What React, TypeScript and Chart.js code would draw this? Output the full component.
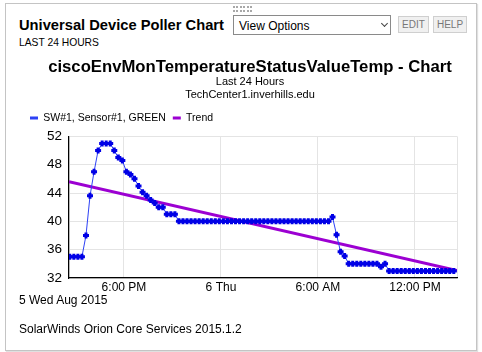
import React, { useEffect, useRef } from "react";
import { Chart, registerables } from "chart.js";

Chart.register(...registerables);

const FONT = "'Liberation Sans', Arial, Helvetica, sans-serif";

const chartTitle = "ciscoEnvMonTemperatureStatusValueTemp - Chart";
const subtitleLines = ["Last 24 Hours", "TechCenter1.inverhills.edu"];
const seriesLabel = "SW#1, Sensor#1, GREEN";
const trendLabel = "Trend";

// polling every 15 minutes, first sample 2:39 PM Aug 5 (hours since Aug 5 00:00)
const startHour = 14.65;
const stepHours = 0.25;

const sensorValues = [
  35, 35, 35, 35, 38, 43.6, 47, 50, 51, 51, 51, 50, 49, 48.6, 47, 46.6,
  46, 45, 44.1, 43.6, 43, 42.6, 42, 42, 41, 41, 41, 40, 40, 40, 40, 40,
  40, 40, 40, 40, 40, 40, 40, 40, 40, 40, 40, 40, 40, 40, 40, 40,
  40, 40, 40, 40, 40, 40, 40, 40, 40, 40, 40, 40, 40, 40, 40, 40,
  40, 40.6, 38.1, 35.7, 35.1, 34, 34, 34, 34, 34, 34, 34, 34, 33.6, 34, 33,
  33, 33, 33, 33, 33, 33, 33, 33, 33, 33, 33, 33, 33, 33, 33, 33,
];

const trendHours = [14.6, 38.6];
const trendValues = [45.6, 33.05];

const axisMinHour = 14.6;
const axisMaxHour = 38.6;
const xTickHours = [18, 24, 30, 36];
const xTickLabels = ["6:00 PM", "6 Thu", "6:00 AM", "12:00 PM"];
const yTicks = [32, 36, 40, 44, 48, 52];

function ChartCanvas() {
  const ref = useRef<HTMLCanvasElement | null>(null);
  useEffect(() => {
    if (!ref.current) return;
    const chart = new Chart(ref.current, {
      type: "line",
      data: {
        datasets: [
          {
            label: seriesLabel,
            xAxisID: "x",
            yAxisID: "y",
            data: sensorValues.map((v, i) => ({ x: startHour + i * stepHours, y: v })),
            borderColor: "rgb(45,65,245)",
            backgroundColor: "rgb(0,0,230)",
            borderWidth: 1,
            pointStyle: "cross",
            pointRadius: 3,
            pointBorderWidth: 3,
            pointBorderColor: "rgb(0,0,230)",
            pointBackgroundColor: "rgb(0,0,230)",
            tension: 0,
          },
          {
            label: trendLabel,
            xAxisID: "x",
            yAxisID: "y",
            data: trendHours.map((h, i) => ({ x: h, y: trendValues[i] })),
            borderColor: "#9c00d2",
            backgroundColor: "#9c00d2",
            borderWidth: 3,
            pointRadius: 0,
            tension: 0,
          },
        ],
      },
      options: {
        animation: false,
        responsive: false,
        maintainAspectRatio: false,
        layout: { padding: { left: 3, right: 3, top: 0, bottom: 6.6 } },
        plugins: {
          title: {
            display: true,
            text: chartTitle,
            color: "#000",
            font: { family: FONT, size: 16.7, weight: "bold", lineHeight: 0.8 },
            padding: { top: 5.5, bottom: 2 },
          },
          subtitle: {
            display: true,
            text: subtitleLines,
            color: "#000",
            font: { family: FONT, size: 11, lineHeight: 13 / 11 },
            padding: { top: 0, bottom: 4 },
          },
          legend: {
            display: true,
            align: "start",
            labels: {
              boxWidth: 8,
              boxHeight: 3,
              padding: 7,
              color: "#000",
              font: { family: FONT, size: 10.5 },
              generateLabels: (c: any) =>
                c.data.datasets.map((ds: any, i: number) => ({
                  text: ds.label,
                  fillStyle: ds.borderColor,
                  strokeStyle: ds.borderColor,
                  lineWidth: 0,
                  hidden: false,
                  datasetIndex: i,
                  fontColor: "#000",
                })),
            },
          },
          tooltip: { enabled: false },
        },
        scales: {
          x: {
            type: "linear",
            min: axisMinHour,
            max: axisMaxHour,
            afterBuildTicks: (s: any) => {
              s.ticks = [axisMinHour, ...xTickHours, axisMaxHour].map((v) => ({ value: v }));
            },
            ticks: {
              autoSkip: false,
              maxRotation: 0,
              minRotation: 0,
              padding: 2,
              color: "#000",
              font: { family: FONT, size: 12 },
              callback: (v: any) => {
                const k = xTickHours.indexOf(Number(v));
                return k >= 0 ? xTickLabels[k] : "";
              },
            },
            grid: { color: "#e4e4e4", drawTicks: false },
            border: { color: "#000", width: 1.2 },
          },
          y: {
            type: "linear",
            min: 32,
            max: 52,
            afterBuildTicks: (s: any) => {
              s.ticks = yTicks.map((v) => ({ value: v }));
            },
            afterFit: (s: any) => {
              s.width = 46;
            },
            ticks: {
              padding: 7,
              color: "#000",
              font: { family: FONT, size: 13.5 },
            },
            grid: { color: "#e4e4e4", drawTicks: false },
            border: { color: "#000", width: 1.2 },
          },
          spacerTop: {
            type: "linear",
            axis: "x",
            position: "top",
            display: true,
            min: 0,
            max: 1,
            afterFit: (s: any) => {
              s.height = 3;
            },
            grid: { display: false, drawTicks: false },
            ticks: { display: false },
            border: { display: false },
          },
          spacerRight: {
            type: "linear",
            axis: "y",
            position: "right",
            display: true,
            min: 0,
            max: 1,
            afterFit: (s: any) => {
              s.width = 20;
            },
            grid: { display: false, drawTicks: false },
            ticks: { display: false },
            border: { display: false },
          },
        },
      } as any,
    });
    return () => chart.destroy();
  }, []);
  return (
    <canvas
      ref={ref}
      width={460}
      height={248}
      style={{ position: "absolute", left: 20, top: 55, width: 460, height: 248 }}
    />
  );
}

const abs = (o: any) => ({ position: "absolute" as const, ...o });

export default function App() {
  const dots: any[] = [];
  for (let r = 0; r < 2; r++) {
    for (let c = 0; c < 6; c++) {
      dots.push(
        <div
          key={`${r}-${c}`}
          style={abs({ left: 233 + c * 3.4, top: 6 + r * 3.8, width: 2, height: 2, background: "#a8a8a8" })}
        />
      );
    }
  }
  return (
    <div style={abs({ left: 0, top: 0, width: 482, height: 352, background: "#fff", fontFamily: FONT, color: "#000", overflow: "hidden" })}>
      <div
        style={abs({
          left: 5,
          top: 3,
          width: 470,
          height: 346,
          border: "1px solid #c4c4c4",
          boxShadow: "1px 1px 1px #e0e0e0",
        })}
      />
      {dots}
      <div style={abs({ left: 19, top: 17.6, fontSize: 14.7, lineHeight: "14.7px", fontWeight: "bold", whiteSpace: "nowrap" })}>
        Universal Device Poller Chart
      </div>
      <div style={abs({ left: 233, top: 15, width: 156, height: 18, border: "1px solid #8a8a8a", background: "#fff" })}>
        <div style={abs({ left: 5, top: 4, fontSize: 12, lineHeight: "12px", whiteSpace: "nowrap" })}>View Options</div>
        <div
          style={abs({
            left: 148,
            top: 5,
            width: 4,
            height: 4,
            borderRight: "1.6px solid #444",
            borderBottom: "1.6px solid #444",
            transform: "rotate(45deg)",
          })}
        />
      </div>
      <div style={abs({ left: 398, top: 16, width: 29, height: 15, border: "1px solid #cfcfcf", background: "#f0f0f0", color: "#777", fontSize: 10, lineHeight: "15px", textAlign: "center" })}>
        EDIT
      </div>
      <div style={abs({ left: 433, top: 16, width: 32, height: 15, border: "1px solid #cfcfcf", background: "#f0f0f0", color: "#777", fontSize: 10, lineHeight: "15px", textAlign: "center" })}>
        HELP
      </div>
      <div style={abs({ left: 19, top: 38, fontSize: 10.3, lineHeight: "10.3px", whiteSpace: "nowrap" })}>LAST 24 HOURS</div>
      <ChartCanvas />
      <div style={abs({ left: 19, top: 294, fontSize: 12, lineHeight: "12px", whiteSpace: "nowrap" })}>5 Wed Aug 2015</div>
      <div style={abs({ left: 19, top: 322.5, fontSize: 12, lineHeight: "12px", whiteSpace: "nowrap" })}>
        SolarWinds Orion Core Services 2015.1.2
      </div>
    </div>
  );
}
